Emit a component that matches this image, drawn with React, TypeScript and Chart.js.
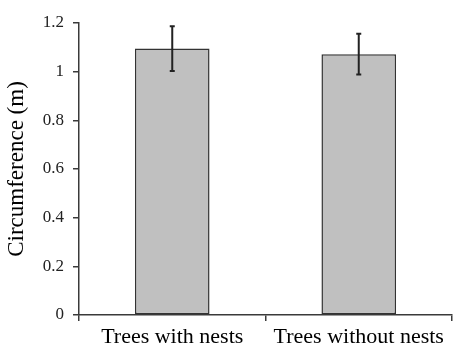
import React, { useEffect, useRef } from "react";
import { Chart, registerables } from "chart.js";

Chart.register(...registerables);

const categories = ["Trees with nests", "Trees without nests"];
const means = [1.095, 1.072];
const errors = [0.092, 0.084];
const yTicks = [0, 0.2, 0.4, 0.6, 0.8, 1, 1.2];

const AXIS = "#3a3a3a";
const SERIF = "'Liberation Serif', 'Times New Roman', serif";

const errorBarPlugin = {
  id: "errorBars",
  afterDatasetsDraw(chart: any) {
    const ctx = chart.ctx;
    const yScale = chart.scales.y;
    const meta = chart.getDatasetMeta(0);
    ctx.save();
    ctx.strokeStyle = "#222222";
    ctx.lineWidth = 2;
    meta.data.forEach((bar: any, i: number) => {
      const x = bar.x;
      const top = yScale.getPixelForValue(means[i] + errors[i]);
      const bot = yScale.getPixelForValue(means[i] - errors[i]);
      ctx.beginPath();
      ctx.moveTo(x, top);
      ctx.lineTo(x, bot);
      ctx.moveTo(x - 2.5, top);
      ctx.lineTo(x + 2.5, top);
      ctx.moveTo(x - 2.5, bot);
      ctx.lineTo(x + 2.5, bot);
      ctx.stroke();
    });
    ctx.restore();
  },
};

export default function App() {
  const canvasRef = useRef<HTMLCanvasElement | null>(null);

  useEffect(() => {
    document.body.style.margin = "0";
    const canvas = canvasRef.current;
    if (!canvas) return;
    const chart = new Chart(canvas, {
      type: "bar",
      data: {
        labels: categories,
        datasets: [
          {
            data: means,
            backgroundColor: "#c0c0c0",
            borderColor: "#333333",
            borderWidth: 1.5,
            borderSkipped: false,
            categoryPercentage: 1,
            barPercentage: 0.4,
          },
        ],
      },
      options: {
        responsive: false,
        animation: false,
        devicePixelRatio: 1,
        layout: { padding: { top: 23, right: 9, left: 0, bottom: 0 } },
        plugins: {
          legend: { display: false },
          tooltip: { enabled: false },
        },
        scales: {
          x: {
            offset: true,
            grid: {
              offset: true,
              drawOnChartArea: false,
              drawTicks: true,
              tickLength: 6,
              color: AXIS,
              lineWidth: 1.5,
            },
            border: { display: true, color: AXIS, width: 1.5 },
            ticks: {
              color: "#000000",
              padding: 3,
              font: { family: SERIF, size: 22 },
              maxRotation: 0,
            },
            afterFit(scale: any) {
              scale.height = 35;
            },
          },
          y: {
            min: 0,
            max: 1.2,
            afterBuildTicks(scale: any) {
              scale.ticks = yTicks.map((v) => ({ value: v }));
            },
            grid: {
              drawOnChartArea: false,
              drawTicks: true,
              tickLength: 6,
              color: AXIS,
              lineWidth: 1.5,
            },
            border: { display: true, color: AXIS, width: 1.5 },
            ticks: {
              color: "#222222",
              padding: 9,
              font: { family: SERIF, size: 17 },
              callback: (v: any) => String(Math.round(Number(v) * 10) / 10),
            },
            title: {
              display: true,
              text: "Circumference (m)",
              color: "#000000",
              font: { family: SERIF, size: 23 },
              padding: { top: 3, bottom: 4 },
            },
            afterFit(scale: any) {
              scale.width = 79;
            },
          },
        },
      },
      plugins: [errorBarPlugin],
    });
    return () => chart.destroy();
  }, []);

  return (
    <div style={{ width: 461, height: 350, background: "#ffffff" }}>
      <canvas ref={canvasRef} width={461} height={350} style={{ display: "block" }} />
    </div>
  );
}
